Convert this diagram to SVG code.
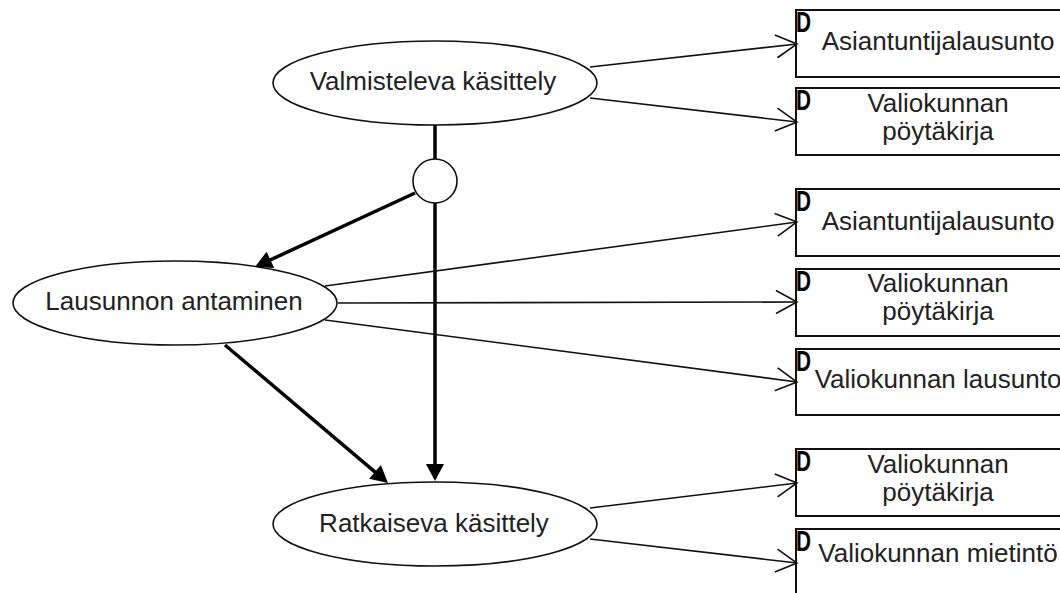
<svg xmlns="http://www.w3.org/2000/svg" width="1060" height="593" viewBox="0 0 1060 593">
  <style>
    .proc { fill: #fff; stroke: #111; stroke-width: 1.6; }
    .doc { fill: #fff; stroke: #111; stroke-width: 2; }
    .lbl { font-family: "Liberation Sans", Arial, sans-serif; font-size: 26px; fill: #222; text-anchor: middle; }
    .tag { font-family: "Liberation Sans", Arial, sans-serif; font-size: 29px; font-weight: bold; fill: #000; }
    .flow { fill: none; stroke: #000; stroke-width: 3.5; }
    .out { fill: none; stroke: #111; stroke-width: 1.6; marker-end: url(#open); }
  </style>
  <defs>
    <marker id="solid" viewBox="-12 -10 20 20" refX="0" refY="0" markerWidth="20" markerHeight="20" markerUnits="userSpaceOnUse" orient="auto">
      <path d="M6,0 L-11,-9 L-11,9 Z" fill="#000"/>
    </marker>
    <marker id="open" viewBox="-24 -14 26 28" refX="0" refY="0" markerWidth="26" markerHeight="28" markerUnits="userSpaceOnUse" orient="auto">
      <path d="M-21,-11.5 L0,0 L-21,11.5" fill="none" stroke="#111" stroke-width="1.6"/>
    </marker>
  </defs>

  <!-- process nodes -->
  <g id="valmisteleva">
    <ellipse class="proc" cx="435" cy="83" rx="162" ry="42"/>
    <text class="lbl" x="433" y="90">Valmisteleva käsittely</text>
  </g>
  <g id="lausunnon">
    <ellipse class="proc" cx="175" cy="303" rx="162" ry="42"/>
    <text class="lbl" x="174" y="310">Lausunnon antaminen</text>
  </g>
  <g id="ratkaiseva">
    <ellipse class="proc" cx="435" cy="524" rx="162" ry="42"/>
    <text class="lbl" x="434" y="532">Ratkaiseva käsittely</text>
  </g>
  <g id="split">
    <circle class="proc" cx="435" cy="181" r="22"/>
  </g>

  <!-- document nodes -->
  <g id="doc1">
    <rect class="doc" x="796" y="10" width="300" height="67"/>
    <text class="tag" x="796" y="32" textLength="15" lengthAdjust="spacingAndGlyphs">D</text>
    <text class="lbl" x="938" y="50">Asiantuntijalausunto</text>
  </g>
  <g id="doc2">
    <rect class="doc" x="796" y="88" width="300" height="67"/>
    <text class="tag" x="796" y="110" textLength="15" lengthAdjust="spacingAndGlyphs">D</text>
    <text class="lbl" x="938" y="112">Valiokunnan</text>
    <text class="lbl" x="938" y="140">pöytäkirja</text>
  </g>
  <g id="doc3">
    <rect class="doc" x="796" y="189" width="300" height="67"/>
    <text class="tag" x="796" y="211" textLength="15" lengthAdjust="spacingAndGlyphs">D</text>
    <text class="lbl" x="938" y="230">Asiantuntijalausunto</text>
  </g>
  <g id="doc4">
    <rect class="doc" x="796" y="269" width="300" height="67"/>
    <text class="tag" x="796" y="291" textLength="15" lengthAdjust="spacingAndGlyphs">D</text>
    <text class="lbl" x="938" y="292">Valiokunnan</text>
    <text class="lbl" x="938" y="320">pöytäkirja</text>
  </g>
  <g id="doc5">
    <rect class="doc" x="796" y="349" width="300" height="66"/>
    <text class="tag" x="796" y="371" textLength="15" lengthAdjust="spacingAndGlyphs">D</text>
    <text class="lbl" x="938" y="388">Valiokunnan lausunto</text>
  </g>
  <g id="doc6">
    <rect class="doc" x="796" y="449" width="300" height="67"/>
    <text class="tag" x="796" y="471" textLength="15" lengthAdjust="spacingAndGlyphs">D</text>
    <text class="lbl" x="938" y="473">Valiokunnan</text>
    <text class="lbl" x="938" y="501">pöytäkirja</text>
  </g>
  <g id="doc7">
    <rect class="doc" x="796" y="529" width="300" height="67"/>
    <text class="tag" x="796" y="551" textLength="15" lengthAdjust="spacingAndGlyphs">D</text>
    <text class="lbl" x="938" y="562">Valiokunnan mietintö</text>
  </g>

  <!-- connectors -->
  <g id="connectors">
    <path class="flow" d="M435,125 L435,159"/>
    <path class="flow" d="M415,193 L260.4,264.5" marker-end="url(#solid)"/>
    <path class="flow" d="M435,203 L435,475" marker-end="url(#solid)"/>
    <path class="flow" d="M225,345 L383.4,479.1" marker-end="url(#solid)"/>

    <path class="out" d="M590,67 L797,44"/>
    <path class="out" d="M590,98 L797,122"/>
    <path class="out" d="M325,286 L797,222"/>
    <path class="out" d="M338,303 L797,302"/>
    <path class="out" d="M325,320 L797,382"/>
    <path class="out" d="M590,508 L797,483"/>
    <path class="out" d="M590,539 L797,563"/>
  </g>
</svg>
